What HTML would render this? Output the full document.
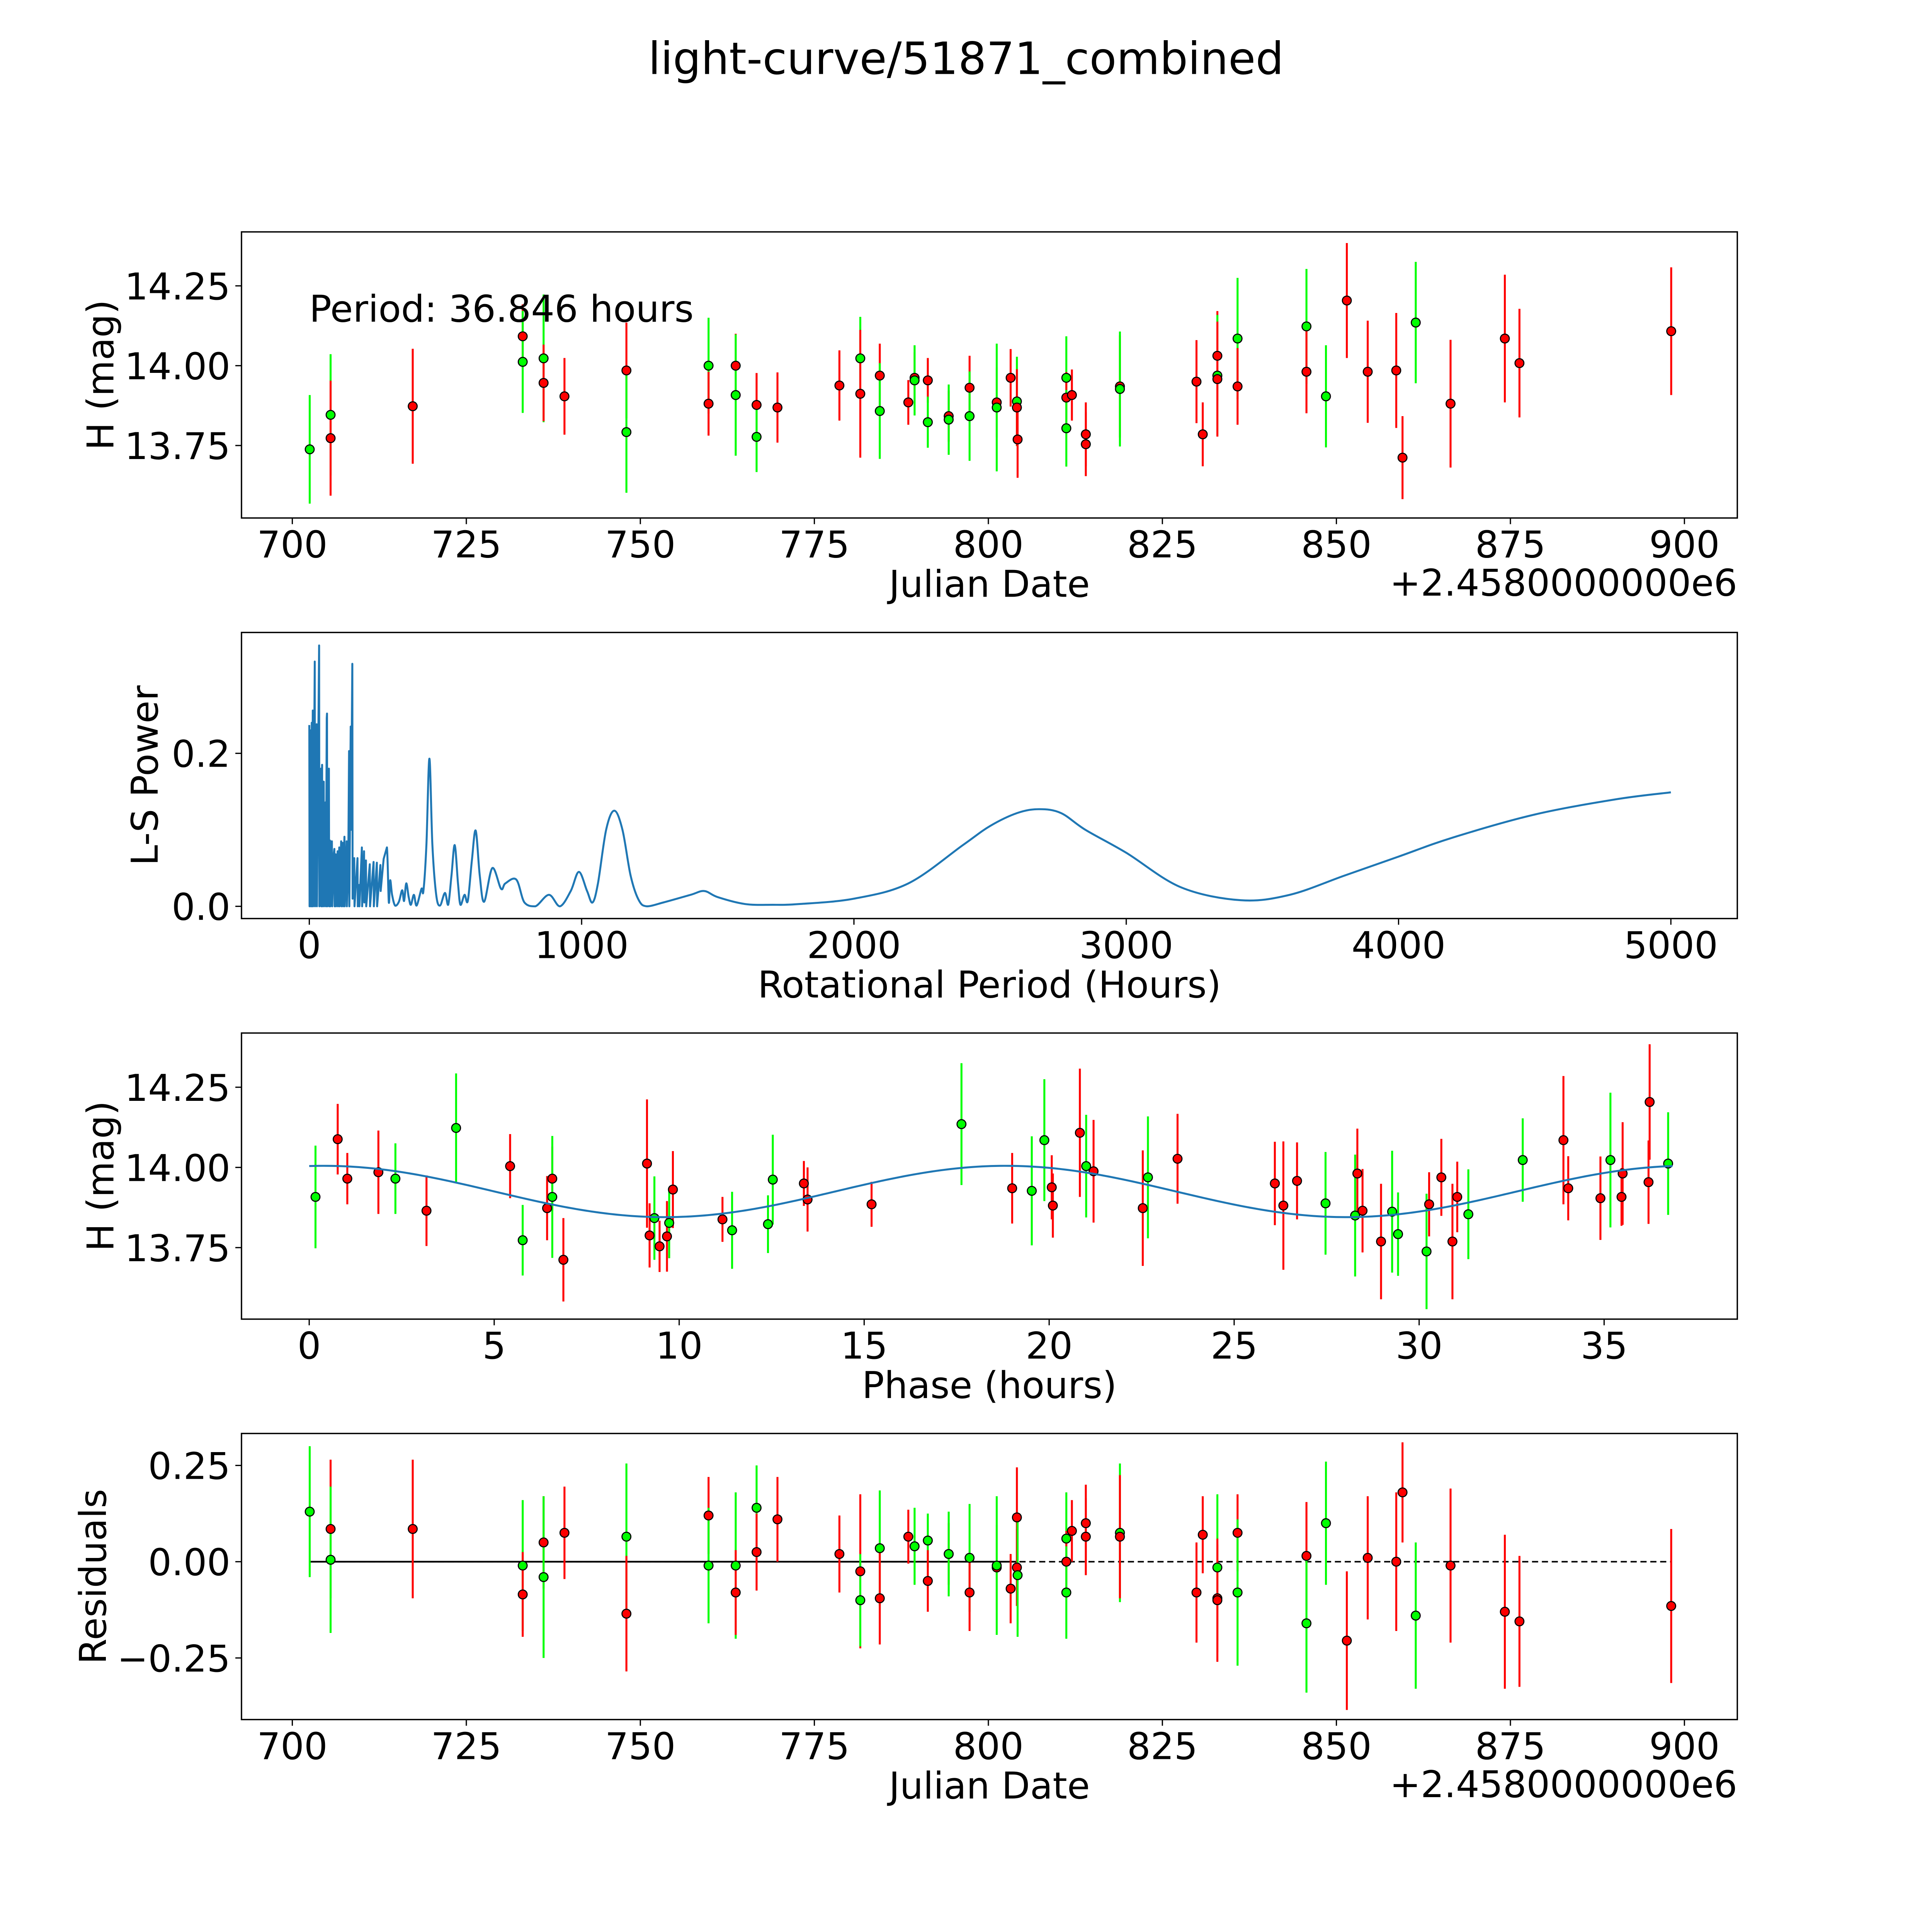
<!DOCTYPE html>
<html><head><meta charset="utf-8"><style>
html,body{margin:0;padding:0;background:#fff;width:100%;height:100%;overflow:hidden;}
svg{display:block;width:100vw;height:100vh;}
text{font-family:"DejaVu Sans","Liberation Sans",sans-serif;fill:#000;}
</style></head><body>
<svg id="fig" xmlns="http://www.w3.org/2000/svg" viewBox="0 0 1568 1568" preserveAspectRatio="none">
<rect width="1568" height="1568" fill="#fff"/>
<text x="784" y="60" font-size="36" text-anchor="middle">light-curve/51871_combined</text>
</svg>
<script>
// ---- Light curve data (Julian date - 2458000, H mag, error, filter colour) ----
const lcDate = [702.5,705.5,705.5,717.3,733.1,733.1,736.1,736.1,739.1,748.0,748.0,759.8,759.8,763.7,763.7,766.7,766.7,769.7,778.6,781.6,781.6,784.4,784.4,788.5,789.4,789.4,791.3,791.3,794.3,794.3,797.3,797.3,801.2,801.2,803.2,804.1,804.1,804.2,811.2,811.2,811.2,812.0,814.0,814.0,818.9,818.9,829.9,830.8,832.9,832.9,832.9,835.8,835.8,845.7,845.7,848.5,851.5,854.5,858.6,859.5,861.4,866.4,874.2,876.3,898.1];
const lcMag = [13.738,13.846,13.773,13.873,14.092,14.012,14.023,13.946,13.904,13.985,13.792,14.0,13.881,14.0,13.908,13.877,13.777,13.869,13.938,14.023,13.912,13.969,13.858,13.885,13.962,13.954,13.954,13.823,13.842,13.831,13.931,13.842,13.885,13.869,13.962,13.888,13.869,13.769,13.962,13.9,13.804,13.908,13.785,13.754,13.935,13.927,13.95,13.785,14.031,13.969,13.958,14.085,13.935,14.123,13.981,13.904,14.204,13.981,13.985,13.712,14.135,13.881,14.085,14.008,14.108];
const lcErr = [0.17,0.19,0.18,0.18,0.10,0.16,0.20,0.12,0.12,0.15,0.19,0.15,0.10,0.10,0.19,0.10,0.11,0.11,0.11,0.13,0.20,0.10,0.15,0.07,0.08,0.11,0.07,0.08,0.08,0.11,0.10,0.14,0.11,0.20,0.09,0.14,0.12,0.12,0.13,0.08,0.12,0.08,0.10,0.10,0.16,0.18,0.13,0.10,0.14,0.19,0.18,0.19,0.12,0.18,0.13,0.16,0.18,0.16,0.18,0.13,0.19,0.20,0.20,0.17,0.20];
const lcFilt = ["g","g","r","r","r","g","g","r","r","r","g","g","r","r","g","r","g","r","r","g","r","r","g","r","r","g","r","g","r","g","r","g","r","g","r","g","r","r","g","r","g","r","r","r","r","g","r","r","r","g","r","g","r","g","r","g","r","r","r","r","g","r","r","r","r"];
const periodText = "Period: 36.846 hours";

// ---- Periodogram (period in hours, L-S power) ----
const lsPeriod = [0,1,5,6,9,10,12.7,14,20,21,27,28,36,37,43,44,47,48,53,54,60,61,64,65,66,72,73,76,77,83,84,90,92,93,97,98,104,105,110,111,117,118,123,124,129,130,137,138,143,146,147,152,153,158,159,165,166,177,178,183,184,193,194,201,202,208,209,222,223,236,237,248,249,261,262,273,285,292,297,304,315,329,341,348,356,365,373,384,394,412,419,430,441,452,466,480,498,510,522,534,546,555,570,582,597,611,626,642,672,704,720,760,790,830,880,920,960,990,1020,1040,1060,1090,1120,1150,1180,1210,1240,1300,1400,1450,1500,1600,1700,1800,2000,2200,2400,2500,2600,2680,2760,2850,3000,3200,3420,3600,3800,4000,4200,4500,4800,5000];
const lsPower = [0.237,0,0.23,0,0.24,0,0.256,0,0.32,0,0.238,0,0.341,0,0.18,0,0.185,0,0.163,0,0.136,0,0.246,0.252,0,0.18,0,0.086,0,0.085,0,0.068,0.075,0,0.068,0,0.072,0,0.077,0,0.085,0,0.083,0,0.091,0,0.085,0,0.054,0.203,0,0.235,0.1,0.317,0.01,0.063,0,0.063,0,0.028,0,0.077,0,0.072,0.005,0.06,0,0.055,0,0.058,0,0.057,0,0.054,0.02,0.062,0.077,0.005,0.034,0.015,0.001,0.006,0.021,0.007,0.03,0.012,0.002,0.015,0.001,0.023,0.02,0.08,0.193,0.08,0.015,0.001,0.0175,0.002,0.04,0.08,0.03,0.002,0.015,0.007,0.06,0.099,0.04,0.006,0.05,0.023,0.03,0.035,0.005,0.0,0.015,0.0,0.02,0.045,0.02,0.005,0.03,0.1,0.125,0.1,0.04,0.008,0.0,0.005,0.015,0.02,0.012,0.003,0.002,0.003,0.01,0.03,0.08,0.105,0.122,0.127,0.122,0.1,0.07,0.025,0.008,0.015,0.04,0.065,0.09,0.12,0.14,0.149];

// ---- Phased data ----
const phHour = [0.17,0.77,1.03,1.87,2.33,3.17,3.97,5.43,5.77,6.43,6.57,6.57,6.87,9.13,9.2,9.33,9.47,9.67,9.73,9.83,11.17,11.43,12.4,12.53,13.37,13.47,15.2,17.63,19.0,19.53,19.87,20.07,20.1,20.83,21.0,21.2,22.53,22.67,23.47,26.1,26.33,26.7,27.47,28.27,28.33,28.47,28.97,29.27,29.43,30.2,30.27,30.6,30.9,31.03,31.33,32.8,33.9,34.03,34.9,35.17,35.47,35.5,36.2,36.23,36.73];
const phMag = [13.908,14.088,13.965,13.985,13.965,13.865,14.123,14.004,13.773,13.873,13.965,13.908,13.712,14.012,13.788,13.842,13.754,13.785,13.827,13.931,13.838,13.804,13.823,13.962,13.95,13.9,13.885,14.135,13.935,13.927,14.085,13.938,13.881,14.108,14.004,13.988,13.873,13.969,14.027,13.95,13.881,13.958,13.888,13.85,13.981,13.865,13.769,13.862,13.792,13.738,13.885,13.969,13.769,13.908,13.854,14.023,14.085,13.935,13.904,14.023,13.908,13.981,13.954,14.204,14.012];
const phErr = [0.16,0.11,0.08,0.13,0.11,0.11,0.17,0.1,0.11,0.1,0.1,0.19,0.13,0.2,0.1,0.13,0.08,0.11,0.11,0.12,0.07,0.12,0.09,0.14,0.07,0.1,0.07,0.19,0.11,0.17,0.19,0.1,0.1,0.2,0.16,0.16,0.18,0.19,0.14,0.13,0.2,0.12,0.16,0.19,0.14,0.13,0.18,0.19,0.13,0.18,0.1,0.12,0.18,0.11,0.14,0.13,0.2,0.1,0.13,0.21,0.09,0.16,0.13,0.18,0.16];
const phFilt = ["g","r","r","r","g","r","g","r","g","r","r","g","r","r","r","g","r","r","g","r","r","g","g","g","r","r","r","g","r","g","g","r","r","r","g","r","r","g","r","r","r","r","g","g","r","r","r","g","g","g","r","r","r","r","g","g","r","r","r","g","r","r","r","r","g"];
// fitted sinusoid parameters: mean, amplitude, phase offset (hours), period (hours), harmonics
const fitParams = [13.925, 0.08, 0.4, 36.846, 2];

// ---- Residuals ----
const resDate = [702.5,705.5,705.5,717.3,733.1,733.1,736.1,736.1,739.1,748.0,748.0,759.8,759.8,763.7,763.7,766.7,766.7,769.7,778.6,781.6,781.6,784.4,784.4,788.5,789.4,791.3,791.3,794.3,794.3,797.3,797.3,801.2,801.2,803.2,804.1,804.1,804.2,811.2,811.2,811.2,812.0,814.0,814.0,818.9,818.9,829.9,830.8,832.9,832.9,832.9,835.8,835.8,845.7,845.7,848.5,851.5,854.5,858.6,859.5,861.4,866.4,874.2,876.3,898.1];
const resVal = [0.13,0.085,0.005,0.085,-0.01,-0.085,0.05,-0.04,0.075,0.065,-0.135,0.12,-0.01,-0.01,-0.08,0.14,0.025,0.11,0.02,-0.025,-0.10,0.035,-0.095,0.065,0.04,0.055,-0.05,0.02,0.02,0.01,-0.08,-0.015,-0.01,-0.07,0.115,-0.015,-0.035,0.06,0.0,-0.08,0.08,0.065,0.10,0.075,0.065,-0.08,0.07,-0.015,-0.095,-0.10,0.075,-0.08,0.015,-0.16,0.10,-0.205,0.01,0.0,0.18,-0.14,-0.01,-0.13,-0.155,-0.115];
const resErr = [0.17,0.18,0.19,0.18,0.17,0.11,0.12,0.21,0.12,0.19,0.15,0.1,0.15,0.19,0.11,0.11,0.1,0.11,0.1,0.2,0.12,0.15,0.12,0.07,0.1,0.07,0.08,0.08,0.11,0.14,0.1,0.11,0.18,0.09,0.13,0.1,0.16,0.12,0.08,0.12,0.08,0.1,0.1,0.18,0.16,0.13,0.1,0.19,0.14,0.16,0.1,0.19,0.14,0.18,0.16,0.18,0.16,0.18,0.13,0.19,0.2,0.2,0.17,0.2];
const resFilt = ["g","r","g","r","g","r","r","g","r","g","r","r","g","g","r","g","r","r","r","r","g","g","r","r","g","g","r","r","g","g","r","r","g","r","r","r","g","g","r","g","r","r","r","g","r","r","r","g","r","r","r","g","r","g","g","r","r","r","r","g","r","r","r","r"];

const NS = "http://www.w3.org/2000/svg";
const svg = document.getElementById("fig");
const AX_L = 196, AX_R = 1410, AX_H = 232.2;
const FS = 30;
const COL = {r:"#ff0000", g:"#00ff00"};

function mk(tag, attrs, parent) {
  const e = document.createElementNS(NS, tag);
  for (const k in attrs) e.setAttribute(k, attrs[k]);
  (parent || svg).appendChild(e);
  return e;
}
function makeAxes(name, top, xmin, xmax, ymin, ymax) {
  const g = mk("g", {});
  
  
  const sx = v => AX_L + (v - xmin) / (xmax - xmin) * (AX_R - AX_L);
  const sy = v => top + AX_H - (v - ymin) / (ymax - ymin) * AX_H;
  return {g, sx, sy, top, bottom: top + AX_H};
}
function frame(ax) {
  const r = mk("rect", {x:AX_L, y:ax.top, width:AX_R-AX_L, height:AX_H, fill:"none", stroke:"#000", "stroke-width":1.1}, ax.g);
  
  
}
function xTicks(ax, vals, labels) {
  vals.forEach((v, i) => {
    const x = ax.sx(v);
    mk("line", {x1:x, x2:x, y1:ax.bottom, y2:ax.bottom+5, stroke:"#000", "stroke-width":1}, ax.g);
    const t = mk("text", {x:x, y:ax.bottom+32, "font-size":FS, "text-anchor":"middle"}, ax.g);
    
    
    t.textContent = labels[i];
  });
}
function yTicks(ax, vals, labels) {
  vals.forEach((v, i) => {
    const y = ax.sy(v);
    mk("line", {x1:AX_L-5, x2:AX_L, y1:y, y2:y, stroke:"#000", "stroke-width":1}, ax.g);
    const t = mk("text", {x:AX_L-9, y:y+11, "font-size":FS, "text-anchor":"end"}, ax.g);
    
    
    t.textContent = labels[i];
  });
}
function xLabel(ax, txt, dy) {
  const t = mk("text", {x:(AX_L+AX_R)/2, y:ax.bottom+dy, "font-size":FS, "text-anchor":"middle"}, ax.g);
  
  
  t.textContent = txt;
}
function yLabel(ax, txt, x) {
  const cy = ax.top + AX_H/2;
  const t = mk("text", {x:x, y:cy, "font-size":FS, "text-anchor":"middle", transform:`rotate(-90 ${x} ${cy})`}, ax.g);
  
  
  t.textContent = txt;
}
function offsetText(ax) {
  const t = mk("text", {x:AX_R, y:ax.bottom+63, "font-size":FS, "text-anchor":"end"}, ax.g);
  
  
  t.textContent = "+2.4580000000e6";
}
function errPoints(ax, xs, ys, es, fs) {
  xs.forEach((xv, i) => {
    const x = ax.sx(xv);
    const l = mk("line", {x1:x, x2:x, y1:ax.sy(ys[i]-es[i]), y2:ax.sy(ys[i]+es[i]), stroke:COL[fs[i]], "stroke-width":1.6}, ax.g);
    
    
  });
  xs.forEach((xv, i) => {
    const c = mk("circle", {cx:ax.sx(xv), cy:ax.sy(ys[i]), r:3.6, fill:COL[fs[i]], stroke:"#000", "stroke-width":0.9}, ax.g);
    
    
  });
}
const jdTicks = [700,725,750,775,800,825,850,875,900];
const jdLabels = ["700","725","750","775","800","825","850","875","900"];

// Panel 1: light curve
const a1 = makeAxes("light-curve-panel", 188.2, 692.7, 907.6, 13.523, 14.419);
errPoints(a1, lcDate, lcMag, lcErr, lcFilt);
frame(a1);
xTicks(a1, jdTicks, jdLabels);
yTicks(a1, [13.75,14.0,14.25], ["13.75","14.00","14.25"]);
xLabel(a1, "Julian Date", 64); offsetText(a1); yLabel(a1, "H (mag)", 92);
const pt = mk("text", {x:251, y:261, "font-size":FS}, a1.g);


pt.textContent = periodText;

// Panel 2: periodogram
const a2 = makeAxes("periodogram-panel", 513.3, -249, 5244, -0.016, 0.358);
const P = lsPeriod.map((p, i) => [a2.sx(p), a2.sy(lsPower[i])]);
let lsPath = "M" + P[0][0].toFixed(2) + "," + P[0][1].toFixed(2);
for (let i = 1; i < P.length; i++) {
  if (lsPeriod[i] <= 285) {
    lsPath += "L" + P[i][0].toFixed(2) + "," + P[i][1].toFixed(2);
  } else {
    const p0 = P[i-2] || P[i-1], p1 = P[i-1], p2 = P[i], p3 = P[i+1] || P[i];
    const c1 = [p1[0] + (p2[0]-p0[0])/6, p1[1] + (p2[1]-p0[1])/6];
    const c2 = [p2[0] - (p3[0]-p1[0])/6, p2[1] - (p3[1]-p1[1])/6];
    c1[1] = Math.min(c1[1], a2.sy(0)); c2[1] = Math.min(c2[1], a2.sy(0));
    lsPath += "C" + c1[0].toFixed(2) + "," + c1[1].toFixed(2) + " " + c2[0].toFixed(2) + "," + c2[1].toFixed(2) + " " + p2[0].toFixed(2) + "," + p2[1].toFixed(2);
  }
}
const lp = mk("path", {d:lsPath, fill:"none", stroke:"#1f77b4", "stroke-width":1.6, "stroke-linejoin":"round"}, a2.g);


frame(a2);
xTicks(a2, [0,1000,2000,3000,4000,5000], ["0","1000","2000","3000","4000","5000"]);
yTicks(a2, [0,0.2], ["0.0","0.2"]);
xLabel(a2, "Rotational Period (Hours)", 64); yLabel(a2, "L-S Power", 128);

// Panel 3: phased
const a3 = makeAxes("phase-panel", 838.4, -1.83, 38.6, 13.527, 14.419);
errPoints(a3, phHour, phMag, phErr, phFilt);
let fp = "";
for (let i = 0; i <= 300; i++) {
  const p = fitParams[3] * i / 300;
  const m = fitParams[0] + fitParams[1] * Math.cos(2*Math.PI*fitParams[4]*(p - fitParams[2]) / fitParams[3]);
  fp += (i ? "L" : "M") + a3.sx(p).toFixed(2) + "," + a3.sy(m).toFixed(2);
}
const fl = mk("path", {d:fp, fill:"none", stroke:"#1f77b4", "stroke-width":1.6}, a3.g);


frame(a3);
xTicks(a3, [0,5,10,15,20,25,30,35], ["0","5","10","15","20","25","30","35"]);
yTicks(a3, [13.75,14.0,14.25], ["13.75","14.00","14.25"]);
xLabel(a3, "Phase (hours)", 64); yLabel(a3, "H (mag)", 92);

// Panel 4: residuals
const a4 = makeAxes("residuals-panel", 1163.4, 692.7, 907.6, -0.41, 0.333);
const z1 = mk("line", {x1:a4.sx(702.5), x2:a4.sx(804), y1:a4.sy(0), y2:a4.sy(0), stroke:"#000", "stroke-width":1.4}, a4.g);


const z2 = mk("line", {x1:a4.sx(702.5), x2:a4.sx(898.1), y1:a4.sy(0), y2:a4.sy(0), stroke:"#000", "stroke-width":1.2, "stroke-dasharray":"5,3"}, a4.g);


errPoints(a4, resDate, resVal, resErr, resFilt);
frame(a4);
xTicks(a4, jdTicks, jdLabels);
yTicks(a4, [-0.25,0,0.25], ["\u22120.25","0.00","0.25"]);
xLabel(a4, "Julian Date", 64); offsetText(a4); yLabel(a4, "Residuals", 86);
</script>
</body></html>
